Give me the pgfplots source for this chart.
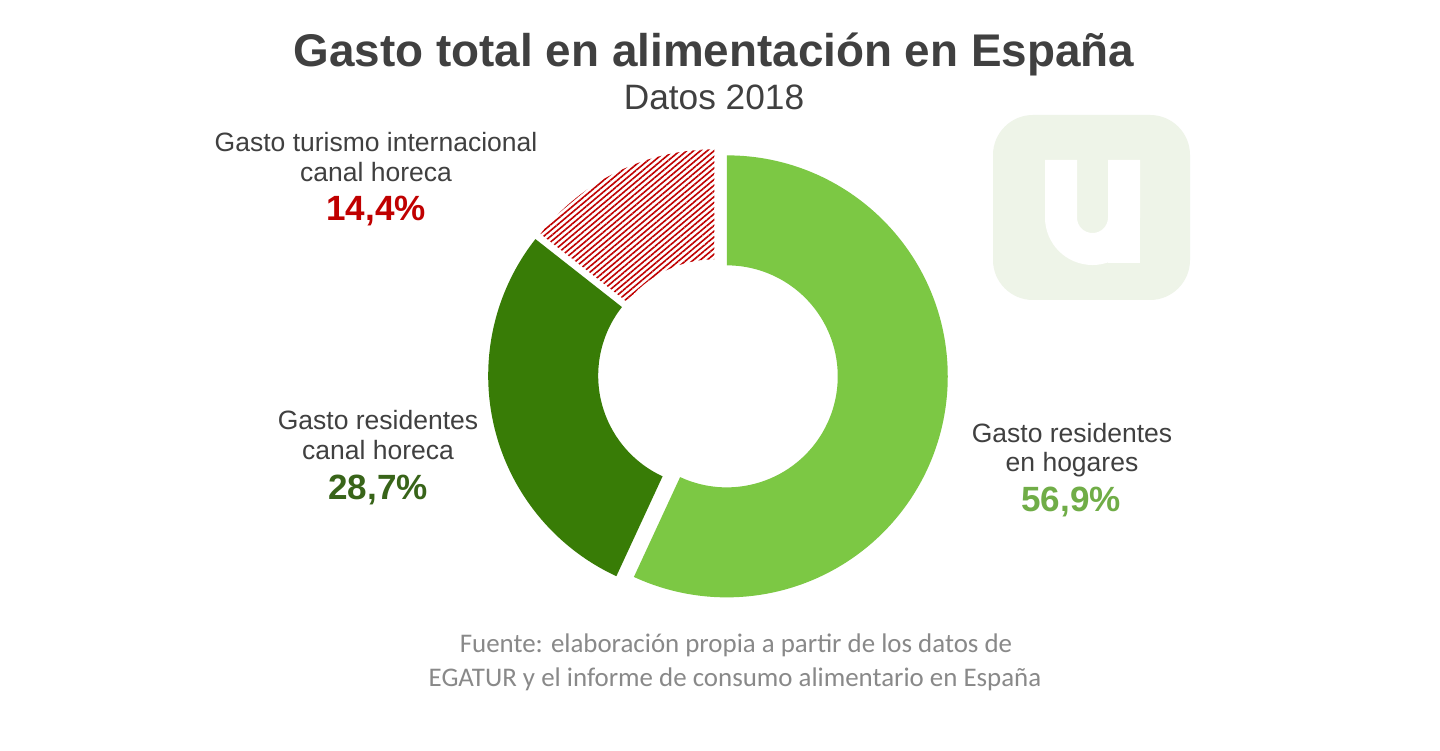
\documentclass[border=0pt]{standalone}
\usepackage{pgfplots}
\pgfplotsset{compat=1.18}
\usepackage{pgfplotstable}
\usetikzlibrary{patterns.meta}
\usepackage{fontspec}
\setmainfont{Liberation Sans}
\newfontfamily\calibri{Carlito}

\definecolor{verdeclaro}{RGB}{124,200,68}
\definecolor{verdeoscuro}{RGB}{56,124,6}
\definecolor{rojo}{RGB}{192,0,0}
\definecolor{txtgris}{RGB}{64,64,64}
\definecolor{fuentegris}{RGB}{137,137,137}
\definecolor{pctclaro}{RGB}{112,173,71}
\definecolor{pctoscuro}{RGB}{56,100,25}
\definecolor{logofondo}{RGB}{238,244,232}

% info = share / share before it (clockwise from 12 o'clock) / offset in bp / style
\pgfplotstableread{
x   y   info
716 376 56.9/0.0/5.5/0
716 376 28.7/56.9/3.5/1
716 376 14.4/85.6/2.0/2
}\donut

\def\leeinfo#1/#2/#3/#4\relax{\def\wpct{#1}\def\wstart{#2}\def\wexpl{#3}\def\widx{#4}}

\pgfdeclareplotmark{nada}{}
\tikzset{
  seg0/.style={draw=none, fill=verdeclaro},
  seg1/.style={draw=none, fill=verdeoscuro},
  seg2/.style={draw=none, pattern={Lines[angle=40,distance=2.2bp,line width=0.8bp]},pattern color=rojo},
}

\begin{document}
\begin{tikzpicture}
\begin{axis}[
    x=0.5bp, y=0.5bp,
    xmin=0, xmax=1440, ymin=0, ymax=750,
    hide axis, clip=false,
  ]
  \fill[white] (0,0) rectangle (1440,750);

  % logo
  \fill[logofondo, rounded corners=20bp] (993,450) rectangle (1190,635);
  \draw[white, line width=16bp] (1061,590) -- (1061,532.5)
      arc[start angle=180, end angle=360, radius=15.75bp] -- (1124,590);
  \draw[white, line width=16bp] (1124,590) -- (1124,487);

  % donut
  \addplot[
    scatter, only marks, mark=nada,
    point meta=explicit symbolic,
    scatter/@pre marker code/.code={%
      \expandafter\leeinfo\pgfplotspointmeta\relax
      \pgfmathsetmacro\aini{90-3.6*\wstart}%
      \pgfmathsetmacro\afin{90-3.6*(\wstart+\wpct)}%
      \pgfmathsetmacro\amid{(\aini+\afin)/2}%
      \edef\segname{seg\widx}%
      \scope
      \pgftransformshift{\pgfpointpolar{\amid}{\wexpl bp}}%
      \expandafter\path\expandafter[\segname]
        (\aini:55.5bp) -- (\aini:110.5bp)
        arc[start angle=\aini, end angle=\afin, radius=110.5bp]
        -- (\afin:55.5bp)
        arc[start angle=\afin, end angle=\aini, radius=55.5bp] -- cycle;
    },
    scatter/@post marker code/.code={\endscope},
  ] table[x=x, y=y, meta=info] {\donut};

  % titles
  \node[anchor=base, font=\bfseries\fontsize{23}{27}\selectfont, text=txtgris]
    at (714,683) {Gasto total en alimentación en España};
  \node[anchor=base, font=\fontsize{17.7}{21}\selectfont, text=txtgris]
    at (714,640) {Datos 2018};

  % labels
  \tikzset{lab/.style={anchor=base, font=\fontsize{13.3}{16}\selectfont, text=txtgris},
           pct/.style={anchor=base, font=\bfseries\fontsize{17.6}{21}\selectfont}}
  \node[lab] at (376,598) {Gasto turismo internacional};
  \node[lab] at (376,568) {canal horeca};
  \node[pct, text=rojo] at (376,529) {14,4\%};

  \node[lab] at (378,320) {Gasto residentes};
  \node[lab] at (378,290) {canal horeca};
  \node[pct, text=pctoscuro] at (378,250) {28,7\%};

  \node[lab] at (1072,307) {Gasto residentes};
  \node[lab] at (1072,278) {en hogares};
  \node[pct, text=pctclaro] at (1071,238) {56,9\%};

  % source
  \node[anchor=base, font=\calibri\fontsize{13.5}{16}\selectfont, text=fuentegris]
    at (736,98) {Fuente: elaboración propia a partir de los datos de};
  \node[anchor=base, font=\calibri\fontsize{13.5}{16}\selectfont, text=fuentegris]
    at (735,63) {EGATUR y el informe de consumo alimentario en España};
\end{axis}
\end{tikzpicture}
\end{document}
